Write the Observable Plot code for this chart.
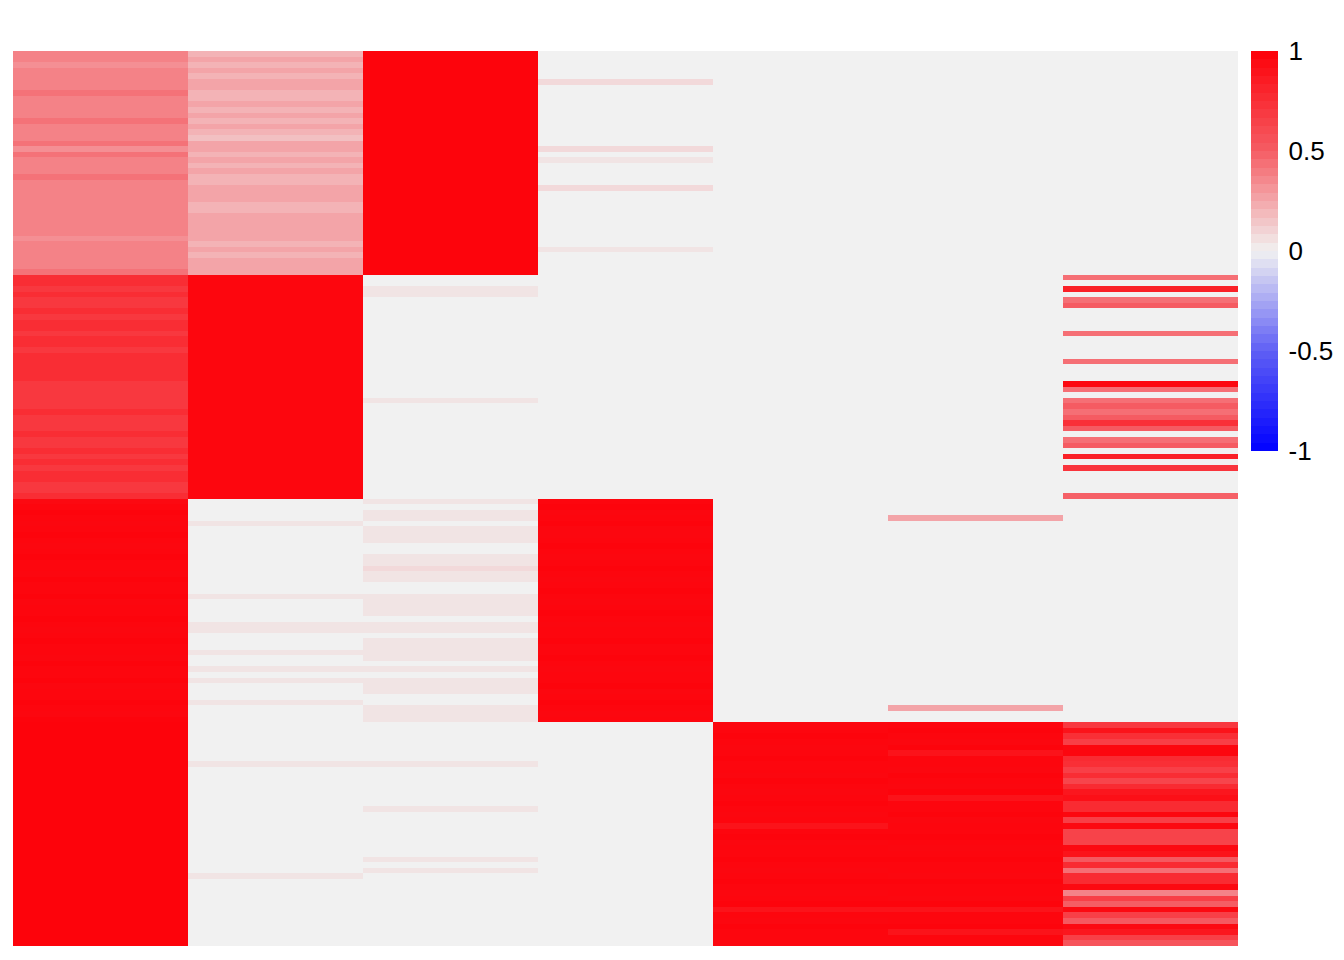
<!DOCTYPE html>
<html><head><meta charset="utf-8">
<script src="https://cdn.jsdelivr.net/npm/d3@7"></script>
<script src="https://cdn.jsdelivr.net/npm/@observablehq/plot@0.6"></script>
<style>
body{margin:0;background:#fff}
#wrap{position:relative;width:1344px;height:960px}
#main{position:absolute;left:0;top:0}
#legend{position:absolute;left:1251px;top:0}
</style>
</head><body><div id="wrap"><div id="main"></div><div id="legend"></div></div>
<script>
const columns = ["C1","C2","C3","C4","C5","C6","C7"];

const c1 = [
 .375,.375,.33,.375,.375,.375,.375,.43,.375,.375, .375,.375,.43,.375,.375,.375,.43,.33,.43,.375, .375,.375,.43,.375,.375,.375,.375,.375,.375,.375, .375,.375,.375,.33,.375,.375,.375,.375,.375,.43,
 .76,.76,.70,.76,.70,.70,.76,.70,.76,.76, .70,.76,.76,.70,.76,.76,.76,.76,.76,.70, .70,.70,.70,.70,.76,.70,.70,.70,.76,.70, .70,.76,.70,.76,.70,.76,.76,.70,.70,.76,
 .95,.97,.98,.97,.96,.97,.98,.97,.96,.97, .98,.97,.97,.96,.98,.97,.97,.98,.96,.97, .97,.98,.97,.96,.97,.98,.97,.97,.96,.98, .97,.97,.98,.96,.97,.97,.98,.97,.96,.98,
 .985,.985,.985,.985,.985,.985,.985,.985,.985,.985, .985,.985,.985,.985,.985,.985,.985,.985,.985,.985, .985,.985,.985,.985,.985,.985,.985,.985,.985,.985, .985,.985,.985,.985,.985,.985,.985,.985,.985,.985
];
const c2 = [
 .21,.26,.21,.26,.21,.26,.26,.21,.21,.26, .21,.26,.21,.26,.21,.165,.26,.26,.21,.26, .21,.26,.21,.21,.26,.26,.26,.21,.21,.26, .26,.26,.26,.26,.21,.26,.21,.26,.26,.26,
 .97,.97,.97,.97,.97,.97,.97,.97,.97,.97, .97,.97,.97,.97,.97,.97,.97,.97,.97,.97, .97,.97,.97,.97,.97,.97,.97,.97,.97,.97, .97,.97,.97,.97,.97,.97,.97,.97,.97,.97,
 0,0,0,0,.045,0,0,0,0,0, 0,0,0,0,0,0,0,.045,0,0, 0,0,.045,.045,0,0,0,.045,0,0, .045,0,.045,0,0,0,.045,0,0,0,
 0,0,0,0,0,0,0,.045,0,0, 0,0,0,0,0,0,0,0,0,0, 0,0,0,0,0,0,0,.045,0,0, 0,0,0,0,0,0,0,0,0,0
];
const c3 = [
 .98,.98,.98,.98,.98,.98,.98,.98,.98,.98, .98,.98,.98,.98,.98,.98,.98,.98,.98,.98, .98,.98,.98,.98,.98,.98,.98,.98,.98,.98, .98,.98,.98,.98,.98,.98,.98,.98,.98,.98,
 0,0,.045,.045,0,0,0,0,0,0, 0,0,0,0,0,0,0,0,0,0, 0,0,.045,0,0,0,0,0,0,0, 0,0,0,0,0,0,0,0,0,0,
 .045,0,.045,.045,0,.045,.045,.045,0,0, .045,.045,.08,.045,.045,0,0,.045,.045,.045, .045,0,.045,.045,0,.045,.045,.045,.045,0, .045,0,.045,.045,.045,0,0,.045,.045,.045,
 0,0,0,0,0,0,0,.045,0,0, 0,0,0,0,0,.045,0,0,0,0, 0,0,0,0,.045,0,.045,0,0,0, 0,0,0,0,0,0,0,0,0,0
];
const c4 = [
 0,0,0,0,0,.08,0,0,0,0, 0,0,0,0,0,0,0,.08,0,.045, 0,0,0,0,.08,0,0,0,0,0, 0,0,0,0,0,.045,0,0,0,0,
 0,0,0,0,0,0,0,0,0,0, 0,0,0,0,0,0,0,0,0,0, 0,0,0,0,0,0,0,0,0,0, 0,0,0,0,0,0,0,0,0,0,
 .97,.98,.96,.97,.98,.96,.96,.97,.98,.97, .96,.97,.98,.97,.96,.97,.98,.97,.96,.97, .98,.97,.96,.97,.97,.98,.96,.97,.98,.97, .96,.97,.97,.98,.96,.97,.98,.97,.96,.97,
 0,0,0,0,0,0,0,0,0,0, 0,0,0,0,0,0,0,0,0,0, 0,0,0,0,0,0,0,0,0,0, 0,0,0,0,0,0,0,0,0,0
];
const c5 = [
 0,0,0,0,0,0,0,0,0,0, 0,0,0,0,0,0,0,0,0,0, 0,0,0,0,0,0,0,0,0,0, 0,0,0,0,0,0,0,0,0,0,
 0,0,0,0,0,0,0,0,0,0, 0,0,0,0,0,0,0,0,0,0, 0,0,0,0,0,0,0,0,0,0, 0,0,0,0,0,0,0,0,0,0,
 0,0,0,0,0,0,0,0,0,0, 0,0,0,0,0,0,0,0,0,0, 0,0,0,0,0,0,0,0,0,0, 0,0,0,0,0,0,0,0,0,0,
 .96,.97,.98,.97,.96,.97,.98,.97,.97,.96, .98,.97,.96,.97,.98,.97,.96,.97,.9,.97, .98,.96,.97,.97,.98,.97,.96,.97,.98,.97, .96,.97,.98,.9,.97,.96,.98,.97,.97,.96
];
const c6 = [
 0,0,0,0,0,0,0,0,0,0, 0,0,0,0,0,0,0,0,0,0, 0,0,0,0,0,0,0,0,0,0, 0,0,0,0,0,0,0,0,0,0,
 0,0,0,0,0,0,0,0,0,0, 0,0,0,0,0,0,0,0,0,0, 0,0,0,0,0,0,0,0,0,0, 0,0,0,0,0,0,0,0,0,0,
 0,0,0,.26,0,0,0,0,0,0, 0,0,0,0,0,0,0,0,0,0, 0,0,0,0,0,0,0,0,0,0, 0,0,0,0,0,0,0,.26,0,0,
 .97,.98,.97,.96,.98,.9,.97,.97,.96,.98, .97,.96,.98,.9,.97,.97,.98,.96,.97,.97, .98,.97,.96,.97,.98,.97,.97,.96,.98,.97, .97,.96,.98,.9,.97,.97,.98,.9,.97,.96
];
const c7 = [
 0,0,0,0,0,0,0,0,0,0, 0,0,0,0,0,0,0,0,0,0, 0,0,0,0,0,0,0,0,0,0, 0,0,0,0,0,0,0,0,0,0,
 .44,0,.83,0,.44,.51,0,0,0,0, .44,0,0,0,0,.44,0,0,0,.95, .44,0,.44,.51,.44,.51,.74,.51,0,.44, .51,0,.83,0,.72,0,0,0,0,.49,
 0,0,0,0,0,0,0,0,0,0, 0,0,0,0,0,0,0,0,0,0, 0,0,0,0,0,0,0,0,0,0, 0,0,0,0,0,0,0,0,0,0,
 .70,.90,.75,.66,.96,.96,.77,.75,.66,.76, .63,.77,.88,.92,.77,.77,.96,.66,.95,.64, .64,.64,.95,.90,.52,.77,.44,.77,.77,.95, .37,.66,.50,.95,.66,.52,.95,.88,.66,.55
];
const seriesValues = [c1, c2, c3, c4, c5, c6, c7];
const legendTicks = [-1, -0.5, 0, 0.5, 1];
const colorStops = ["#0000FF", "#5F5FF5", "#F1F1F1", "#F55D64", "#FD0008"];

const rowIds = c1.map((_, i) => i);
const table = [];
columns.forEach((col, j) => seriesValues[j].forEach((v, i) => table.push({col, row: i, value: v})));

const interp = d3.piecewise(d3.interpolateRgb, colorStops);
const colorOpts = {type: "linear", domain: [-1, 1], interpolate: interp};

const main = Plot.plot({
  width: 1344, height: 960,
  marginLeft: 13, marginRight: 106, marginTop: 51, marginBottom: 14,
  x: {domain: columns, padding: 0, axis: null},
  y: {domain: rowIds, padding: 0, axis: null},
  color: colorOpts,
  marks: [
    Plot.cell(table, {x: "col", y: "row", fill: "value", shapeRendering: "crispEdges"})
  ]
});
document.getElementById("main").appendChild(main);

// colour bar bands
const nb = 48;
const bands = d3.range(nb).map(k => {
  const lo = -1 + 2 * k / nb, hi = -1 + 2 * (k + 1) / nb;
  return {lo, hi, mid: (lo + hi) / 2};
});
const legend = Plot.plot({
  width: 93, height: 481,
  marginLeft: 0, marginRight: 66, marginTop: 51, marginBottom: 30,
  style: {fontSize: "26px", fontFamily: "Liberation Sans, Arial, sans-serif", color: "#000", background: "transparent"},
  x: {domain: [0, 1], axis: null},
  y: {domain: [-1, 1], axis: null},
  color: colorOpts,
  marks: [
    Plot.rect(bands, {x1: 0, x2: 1, y1: "lo", y2: "hi", fill: "mid", shapeRendering: "crispEdges"}),
    Plot.axisY({anchor: "right", ticks: legendTicks, tickSize: 0, tickPadding: 10, tickFormat: d => String(d), label: null, fontSize: 26})
  ]
});
document.getElementById("legend").appendChild(legend);
</script>
</body></html>
